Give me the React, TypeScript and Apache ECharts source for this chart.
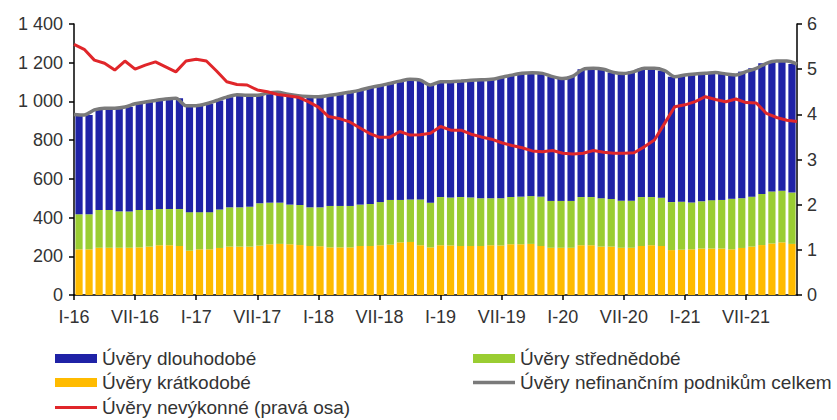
import React, { useEffect, useRef } from "react";
import * as echarts from "echarts";

const ROMAN = ["I", "II", "III", "IV", "V", "VI", "VII", "VIII", "IX", "X", "XI", "XII"];
const YEARS = ["16", "17", "18", "19", "20", "21"];
const months: string[] = [];
YEARS.forEach((y) => ROMAN.forEach((m) => months.push(m + "-" + y)));

// Úvěry krátkodobé (mld. Kč)
const shortTerm = [
  236, 236, 244, 244, 244, 244, 246, 250, 257, 257, 253, 229,
  236, 236, 243, 250, 250, 250, 255, 262, 264, 262, 258, 253,
  252, 246, 246, 246, 253, 253, 257, 260, 272, 274, 257, 246,
  257, 256, 253, 253, 253, 257, 256, 262, 262, 264, 253, 244,
  244, 244, 257, 257, 250, 250, 244, 244, 253, 257, 253, 232,
  234, 236, 240, 240, 240, 236, 243, 250, 258, 266, 272, 264,
];
// Úvěry střednědobé
const mediumTerm = [
  181, 181, 195, 195, 188, 188, 193, 189, 187, 187, 191, 199,
  192, 192, 199, 203, 203, 206, 219, 215, 213, 205, 207, 200,
  201, 214, 214, 214, 214, 217, 223, 231, 219, 220, 237, 231,
  249, 248, 253, 251, 247, 243, 244, 244, 246, 247, 255, 242,
  242, 242, 249, 249, 250, 246, 243, 243, 253, 249, 250, 248,
  248, 242, 244, 250, 251, 261, 257, 258, 264, 269, 267, 265,
];
// Úvěry dlouhodobé
const longTerm = [
  516, 513, 517, 526, 533, 539, 549, 558, 561, 568, 572, 550,
  550, 560, 563, 569, 581, 576, 558, 566, 570, 570, 565, 573,
  571, 571, 578, 587, 590, 601, 601, 602, 614, 621, 616, 608,
  596, 598, 599, 605, 612, 614, 625, 630, 637, 637, 637, 642,
  632, 645, 660, 665, 666, 653, 657, 667, 665, 665, 656, 648,
  655, 664, 661, 659, 651, 640, 654, 663, 675, 674, 670, 664,
];
// Úvěry nevýkonné (pravá osa, %)
const nonPerforming = [
  5.55, 5.44, 5.2, 5.13, 4.98, 5.18, 5.0, 5.09, 5.16, 5.05, 4.94, 5.18,
  5.22, 5.18, 4.96, 4.72, 4.66, 4.65, 4.54, 4.5, 4.44, 4.41, 4.38, 4.28,
  4.16, 3.95, 3.91, 3.84, 3.71, 3.58, 3.49, 3.49, 3.62, 3.54, 3.55, 3.58,
  3.73, 3.65, 3.65, 3.56, 3.5, 3.45, 3.37, 3.31, 3.26, 3.19, 3.17, 3.2,
  3.14, 3.12, 3.14, 3.2, 3.16, 3.14, 3.14, 3.15, 3.28, 3.43, 3.8, 4.17,
  4.21, 4.28, 4.39, 4.33, 4.28, 4.34, 4.26, 4.25, 4.02, 3.93, 3.87, 3.84,
];

const leftTicks = [0, 200, 400, 600, 800, 1000, 1200, 1400];

const total = shortTerm.map((v, i) => v + mediumTerm[i] + longTerm[i]);

const FONT = "'Liberation Sans', Arial, sans-serif";
const C_BLUE = "#1f22a6";
const C_GREEN = "#9acd32";
const C_ORANGE = "#ffbb00";
const C_GREY = "#7a7a7a";
const C_RED = "#e0262a";

function fmtThousands(v: number) {
  const s = String(v);
  return s.length > 3 ? s.slice(0, s.length - 3) + " " + s.slice(-3) : s;
}

export default function App() {
  const ref = useRef<HTMLDivElement>(null);
  useEffect(() => {
    if (!ref.current) return;
    const chart = echarts.init(ref.current, undefined, { renderer: "svg" });
    const legendText = { fontFamily: FONT, fontSize: 19, color: "#333" };
    const mkLegend = (name: string, left: number, top: number, h: number) => ({
      show: true,
      left,
      top,
      orient: "horizontal",
      itemWidth: 42,
      itemHeight: h,
      itemGap: 5,
      padding: 0,
      textStyle: legendText,
      data: [{ name, icon: "rect" }],
      selectedMode: false,
    });
    chart.setOption({
      animation: false,
      backgroundColor: "#ffffff",
      grid: { left: 74, right: 40, top: 24, bottom: 125, containLabel: false },
      legend: [
        mkLegend("Úvěry dlouhodobé", 55, 349, 9),
        mkLegend("Úvěry krátkodobé", 55, 373, 9),
        mkLegend("Úvěry nevýkonné (pravá osa)", 55, 398, 3),
        mkLegend("Úvěry střednědobé", 473, 349, 9),
        mkLegend("Úvěry nefinančním podnikům celkem", 473, 373, 3.5),
      ],
      xAxis: [
        {
          type: "category",
          data: months,
          boundaryGap: true,
          show: false,
        },
        {
          type: "category",
          data: months,
          boundaryGap: false,
          position: "bottom",
          axisLine: { show: true, lineStyle: { color: "#000", width: 1.5 } },
          axisTick: { show: true, interval: 5, length: 5, lineStyle: { color: "#000", width: 1.5 } },
          axisLabel: {
            interval: 5,
            margin: 13,
            fontFamily: FONT,
            fontSize: 18,
            color: "#333",
          },
          splitLine: { show: false },
        },
      ],
      yAxis: [
        {
          type: "value",
          min: 0,
          max: 1400,
          interval: 200,
          axisLine: { show: true, lineStyle: { color: "#000", width: 1.5 } },
          axisTick: { show: true, length: 5, lineStyle: { color: "#000", width: 1.5 } },
          axisLabel: {
            margin: 11,
            fontFamily: FONT,
            fontSize: 18,
            color: "#333",
            formatter: (v: number) => (leftTicks.includes(v) ? fmtThousands(v) : ""),
          },
          splitLine: { show: false },
        },
        {
          type: "value",
          min: 0,
          max: 6,
          interval: 1,
          position: "right",
          axisLine: { show: true, lineStyle: { color: "#000", width: 1.5 } },
          axisTick: { show: true, length: 5, lineStyle: { color: "#000", width: 1.5 } },
          axisLabel: { margin: 10, fontFamily: FONT, fontSize: 18, color: "#333" },
          splitLine: { show: false },
        },
      ],
      series: [
        {
          name: "Úvěry krátkodobé",
          type: "bar",
          stack: "s",
          xAxisIndex: 0,
          yAxisIndex: 0,
          data: shortTerm,
          itemStyle: { color: C_ORANGE },
          barCategoryGap: "28%",
        },
        {
          name: "Úvěry střednědobé",
          type: "bar",
          stack: "s",
          xAxisIndex: 0,
          yAxisIndex: 0,
          data: mediumTerm,
          itemStyle: { color: C_GREEN },
          barCategoryGap: "28%",
        },
        {
          name: "Úvěry dlouhodobé",
          type: "bar",
          stack: "s",
          xAxisIndex: 0,
          yAxisIndex: 0,
          data: longTerm,
          itemStyle: { color: C_BLUE },
          barCategoryGap: "28%",
        },
        {
          name: "Úvěry nefinančním podnikům celkem",
          type: "line",
          xAxisIndex: 1,
          yAxisIndex: 0,
          data: total,
          symbol: "none",
          smooth: 0.3,
          lineStyle: { color: C_GREY, width: 3.5 },
          itemStyle: { color: C_GREY },
          z: 5,
        },
        {
          name: "Úvěry nevýkonné (pravá osa)",
          type: "line",
          xAxisIndex: 1,
          yAxisIndex: 1,
          data: nonPerforming,
          symbol: "none",
          lineStyle: { color: C_RED, width: 3 },
          itemStyle: { color: C_RED },
          z: 6,
        },
      ],
    });
    return () => chart.dispose();
  }, []);
  return (
    <div
      ref={ref}
      style={{ width: 837, height: 420, position: "absolute", left: 0, top: 0 }}
    />
  );
}
